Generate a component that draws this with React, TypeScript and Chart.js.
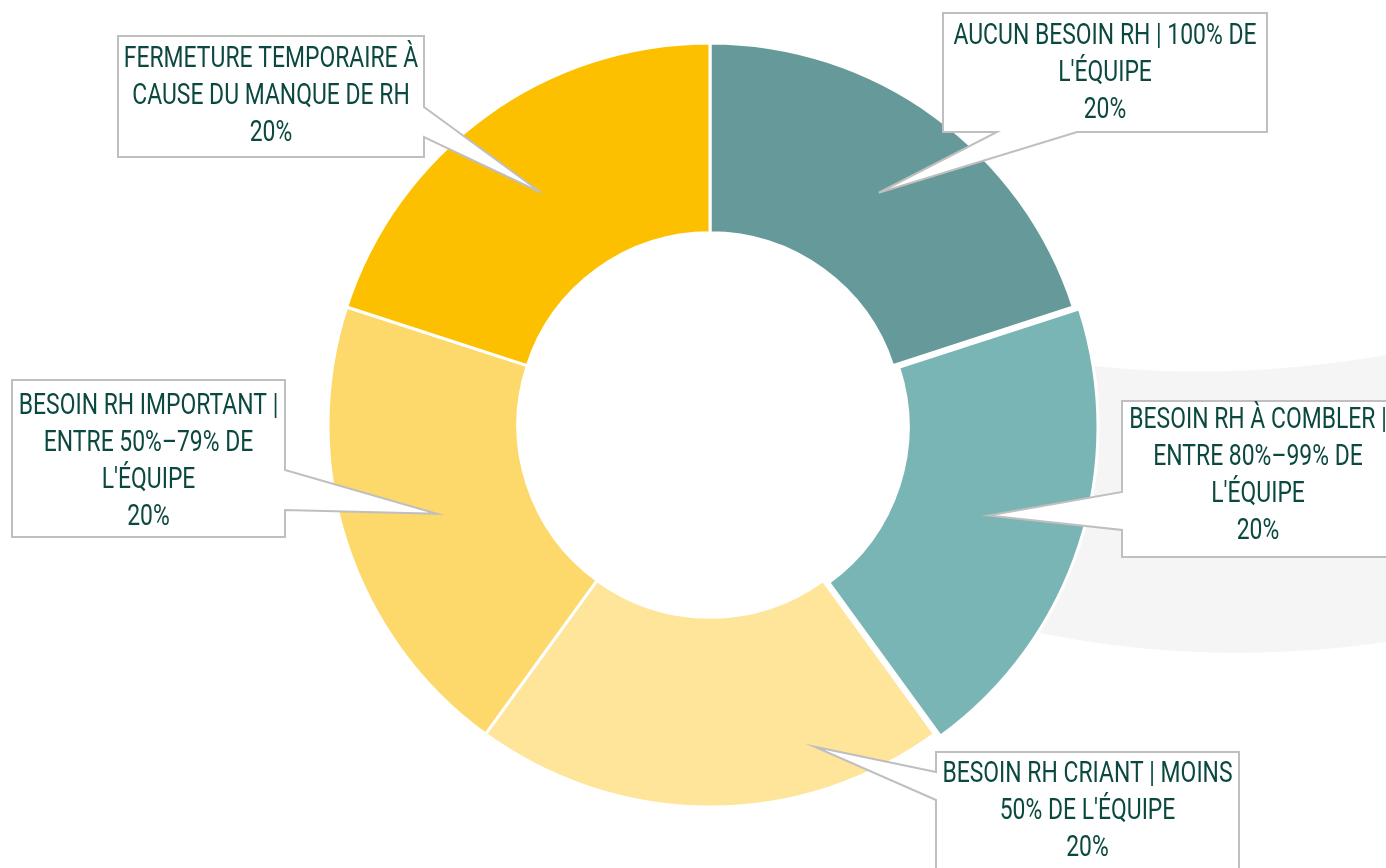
import React, { useEffect, useRef } from "react";
import { Chart, registerables } from "chart.js";

Chart.register(...registerables);

// ---------- DATA ----------
const categories = [
  "AUCUN BESOIN RH | 100% DE L'ÉQUIPE",
  "BESOIN RH À COMBLER | ENTRE 80%–99% DE L'ÉQUIPE",
  "BESOIN RH CRIANT | MOINS 50% DE L'ÉQUIPE",
  "BESOIN RH IMPORTANT | ENTRE 50%–79% DE L'ÉQUIPE",
  "FERMETURE TEMPORAIRE À CAUSE DU MANQUE DE RH",
];
const values = [20, 20, 20, 20, 20];
const labelLines = [
  ["AUCUN BESOIN RH | 100% DE", "L'ÉQUIPE"],
  ["BESOIN RH À COMBLER |", "ENTRE 80%–99% DE", "L'ÉQUIPE"],
  ["BESOIN RH CRIANT | MOINS", "50% DE L'ÉQUIPE"],
  ["BESOIN RH IMPORTANT |", "ENTRE 50%–79% DE", "L'ÉQUIPE"],
  ["FERMETURE TEMPORAIRE À", "CAUSE DU MANQUE DE RH"],
];

// ---------- STYLE / LAYOUT ----------
const sliceColors = ["#669999", "#7AB5B6", "#FEE59A", "#FDD86A", "#FDC000"];
const sliceOffsets = [0, 24, 0, 0, 0];
const textColor = "#0B4840";
const calloutBorder = "#BFBFBF";
const FONT = '29px Roboto, "Noto Sans", sans-serif';
const LINE_H = 37;
const REF_LINE = "AUCUN BESOIN RH | 100% DE";
const REF_LINE_WIDTH = 303;

type Callout = {
  box: [number, number, number, number];
  side: "top" | "right" | "bottom" | "left";
  base: [number, number];
  tipAngle: number;
  tipRadius: number;
  firstY: number;
};

const callouts: Callout[] = [
  { box: [943, 13, 1267, 132], side: "bottom", base: [997, 1077], tipAngle: 0.5, tipRadius: 0.5, firstY: 37 },
  { box: [1122, 401, 1394, 557], side: "left", base: [492, 530], tipAngle: 0.5, tipRadius: 0.5, firstY: 421 },
  { box: [936, 752, 1239, 880], side: "left", base: [772, 800], tipAngle: 0.25, tipRadius: 0.77, firstY: 775 },
  { box: [12, 380, 285, 537], side: "right", base: [470, 510], tipAngle: 0.5, tipRadius: 0.5, firstY: 407 },
  { box: [118, 36, 424, 157], side: "right", base: [107, 137], tipAngle: 0.5, tipRadius: 0.5, firstY: 60 },
];

const shadowPlugin = {
  id: "bgShape",
  beforeDatasetsDraw(chart: any) {
    const ctx = chart.ctx;
    ctx.save();
    ctx.fillStyle = "#F5F5F5";
    ctx.beginPath();
    ctx.moveTo(1000, 362);
    ctx.lineTo(1060, 362);
    ctx.quadraticCurveTo(1218, 384, 1386, 355);
    ctx.lineTo(1386, 642);
    ctx.quadraticCurveTo(1208, 668, 1035, 632);
    ctx.lineTo(1000, 560);
    ctx.closePath();
    ctx.fill();
    ctx.restore();
  },
};

const calloutPlugin = {
  id: "callouts",
  afterDatasetsDraw(chart: any) {
    const ctx = chart.ctx;
    const meta = chart.getDatasetMeta(0);
    const data = chart.data.datasets[0].data as number[];
    const total = data.reduce((a: number, b: number) => a + b, 0);
    ctx.save();
    ctx.font = FONT;
    const sx = REF_LINE_WIDTH / ctx.measureText(REF_LINE).width;
    ctx.restore();
    meta.data.forEach((el: any, i: number) => {
      const c = callouts[i];
      if (!c) return;
      const p = el.getProps(["x", "y", "startAngle", "endAngle", "innerRadius", "outerRadius"], true);
      const off = (el.options.offset || 0) / 4;
      const mid = (p.startAngle + p.endAngle) / 2;
      const a = p.startAngle + c.tipAngle * (p.endAngle - p.startAngle);
      const r = p.innerRadius + c.tipRadius * (p.outerRadius - p.innerRadius);
      const tx = p.x + Math.cos(a) * r + Math.cos(mid) * off;
      const ty = p.y + Math.sin(a) * r + Math.sin(mid) * off;
      const [x0, y0, x1, y1] = c.box;
      const [b0, b1] = c.base;
      const pts: [number, number][] = [];
      pts.push([x0, y0]);
      if (c.side === "top") { pts.push([b0, y0], [tx, ty], [b1, y0]); }
      pts.push([x1, y0]);
      if (c.side === "right") { pts.push([x1, b0], [tx, ty], [x1, b1]); }
      pts.push([x1, y1]);
      if (c.side === "bottom") { pts.push([b1, y1], [tx, ty], [b0, y1]); }
      pts.push([x0, y1]);
      if (c.side === "left") { pts.push([x0, b1], [tx, ty], [x0, b0]); }
      ctx.save();
      ctx.beginPath();
      pts.forEach(([px, py], k) => (k === 0 ? ctx.moveTo(px, py) : ctx.lineTo(px, py)));
      ctx.closePath();
      ctx.fillStyle = "#FFFFFF";
      ctx.fill();
      ctx.lineWidth = 2;
      ctx.strokeStyle = calloutBorder;
      ctx.lineJoin = "miter";
      ctx.stroke();
      const lines = [...labelLines[i], Math.round((data[i] / total) * 100) + "%"];
      ctx.font = FONT;
      ctx.fillStyle = textColor;
      ctx.textAlign = "center";
      ctx.textBaseline = "middle";
      const cx = (x0 + x1) / 2;
      lines.forEach((ln, k) => {
        ctx.save();
        ctx.translate(cx, c.firstY + k * LINE_H);
        ctx.scale(sx, 1);
        ctx.fillText(ln, 0, 0);
        ctx.restore();
      });
      ctx.restore();
    });
  },
};

export default function App() {
  const ref = useRef<HTMLCanvasElement | null>(null);
  useEffect(() => {
    document.body.style.margin = "0";
    const chart = new Chart(ref.current as HTMLCanvasElement, {
      type: "doughnut",
      data: {
        labels: categories,
        datasets: [
          {
            data: values,
            backgroundColor: sliceColors,
            borderColor: "#FFFFFF",
            borderWidth: 3,
            offset: sliceOffsets,
            hoverOffset: 0,
          } as any,
        ],
      },
      options: {
        animation: false,
        responsive: true,
        maintainAspectRatio: false,
        events: [],
        radius: 382,
        cutout: "50.3%",
        layout: { padding: { left: 34, right: 0, top: 0, bottom: 18 } },
        plugins: { legend: { display: false }, tooltip: { enabled: false } },
      } as any,
      plugins: [shadowPlugin, calloutPlugin],
    });
    return () => chart.destroy();
  }, []);
  return (
    <div style={{ position: "absolute", left: 0, top: 0, width: 1386, height: 868, background: "#fff" }}>
      <canvas ref={ref} />
    </div>
  );
}
